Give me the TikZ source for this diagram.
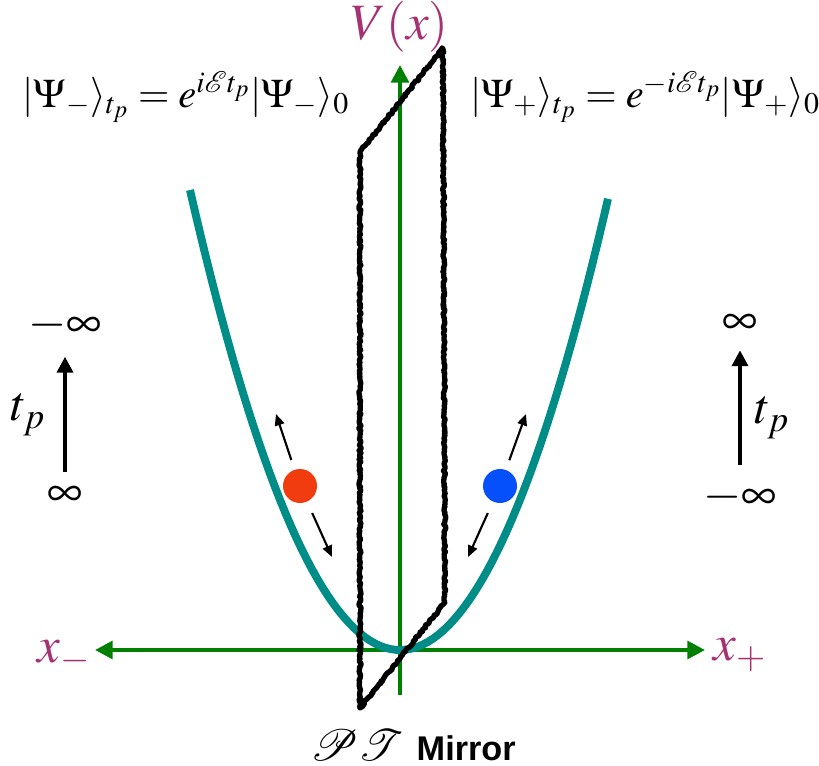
\documentclass[tikz,border=0pt]{standalone}
\usepackage{mathptmx}
\usepackage{mathrsfs}
\usepackage{fontspec}
\newfontfamily\mirrorfont{Liberation Sans}
\usetikzlibrary{arrows.meta,decorations.pathmorphing}

\definecolor{axisgreen}{RGB}{0,128,0}
\definecolor{wellteal}{RGB}{0,140,135}
\definecolor{labelpink}{RGB}{165,50,115}
\definecolor{ballred}{RGB}{240,60,15}
\definecolor{ballblue}{RGB}{5,80,250}

\tikzset{
  axis/.style={draw=axisgreen, line width=2.3pt},
  axistip/.style={-{Triangle[length=10pt,width=10pt]}},
  well/.style={draw=wellteal, line width=4.5pt},
  mirror/.style={draw=black, line width=3pt, line join=round,
    decorate, decoration={random steps, segment length=1pt, amplitude=0.6pt}},
  ball/.style={circle, minimum size=0.68cm, inner sep=0pt},
  kick/.style={line width=1.2pt, -{Triangle[length=6.5pt,width=5.5pt]}},
  timearrow/.style={line width=2.2pt, -{Triangle[length=9pt,width=9pt]}},
  timelabel/.style={font=\fontsize{28}{32}\selectfont, inner sep=0pt},
  axislabel/.style={text=labelpink, font=\fontsize{29}{34}\selectfont},
  eqn/.style={font=\fontsize{23}{27}\selectfont, inner sep=0pt},
}

\begin{document}
\begin{tikzpicture}
\useasboundingbox (-8,-2.3) rectangle (8.38,13.0);
\pgfmathsetseed{7}

% axes
\coordinate (xl) at (-6.1,0);
\coordinate (xr) at (6.1,0);
\coordinate (vbot) at (0,-0.9);
\coordinate (vtop) at (0,11.7);
\draw[axis, {Triangle[length=10pt,width=10pt]}-{Triangle[length=10pt,width=10pt]}] (xl) -- (xr);
\draw[axis, axistip] (vbot) -- (vtop);

% potential well
\draw[well] plot[domain=-4.2:4.16, samples=80] (\x,{0.5215*\x*\x});

% PT mirror
\draw[mirror] (-0.8,-1.16) -- (-0.8,9.96) -- (0.86,12.04) -- (0.9,0.96) -- cycle;

% particles
\node[ball, fill=ballred] (redball) at (-2,3.28) {};
\node[ball, fill=ballblue] (blueball) at (2,3.28) {};
\coordinate (redup) at (-2.48,4.72);
\coordinate (reddown) at (-1.36,1.86);
\coordinate (blueup) at (2.52,4.72);
\coordinate (bluedown) at (1.36,1.86);
\draw[kick, shorten <=5.7pt] (redball) -- (redup);
\draw[kick, shorten <=7pt] (redball) -- (reddown);
\draw[kick, shorten <=5.7pt] (blueball) -- (blueup);
\draw[kick, shorten <=7pt] (blueball) -- (bluedown);

% axis labels
\node[axislabel] (vlab) at (0,12.46) {$V(x)$};
\node[axislabel] (xminus) at (-6.72,-0.14) {$x_-$};
\node[axislabel] (xplus) at (6.8,-0.1) {$x_+$};

% states
\node[eqn] (psiminus) at (-4.28,11.06) {$|\Psi_-\rangle_{t_p} = e^{i\mathcal{E}t_p}|\Psi_-\rangle_0$};
\node[eqn] (psiplus) at (4.9,11.06) {$|\Psi_+\rangle_{t_p} = e^{-i\mathcal{E}t_p}|\Psi_+\rangle_0$};

% time arrows
\node[timelabel] (lstart) at (-6.7,3.06) {$\infty$};
\node[timelabel] (lend) at (-6.7,6.5) {$-\infty$};
\node[timelabel] (ltp) at (-7.44,4.7) {$t_p$};
\draw[timearrow, shorten <=0.3cm, shorten >=0.3cm] (lstart) -- (lend);
\node[timelabel] (rstart) at (6.8,3.06) {$-\infty$};
\node[timelabel] (rend) at (6.8,6.5) {$\infty$};
\node[timelabel] (rtp) at (7.44,4.64) {$t_p$};
\draw[timearrow, shorten <=0.3cm, shorten >=0.3cm] (rstart) -- (rend);

\node (mirrorlab) at (0.26,-1.9) {\fontsize{25}{29}\selectfont$\mathscr{P}\mathscr{T}$ \mirrorfont\bfseries\fontsize{19.5}{23}\selectfont Mirror};
\end{tikzpicture}
\end{document}
